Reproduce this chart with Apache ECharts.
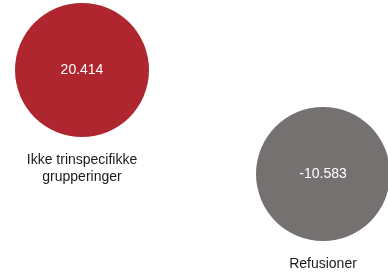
<!DOCTYPE html>
<html>
<head>
<meta charset="utf-8">
<script src="https://cdn.jsdelivr.net/npm/echarts@6/dist/echarts.min.js"></script>
<style>
    html, body { margin: 0; padding: 0; background: #fff; }
    #bubbles { width: 388px; height: 274px; }
</style>
</head>
<body>
<div id="bubbles"></div>
<script>
// bubble data
var names = ['Ikke trinspecifikke\ngrupperinger', 'Refusioner'];
var values = [20.414, -10.583];
var xPos = [0, 1];
var yPos = [1, 0];
var colors = ['#AF262E', '#767171'];

function fmt(v) {
    return v.toFixed(3);
}

var chart = echarts.init(document.getElementById('bubbles'));

var points = names.map(function (n, i) {
    return {
        name: n,
        value: [xPos[i], yPos[i], values[i]],
        itemStyle: {color: colors[i], opacity: 1}
    };
});

var option = {
    animation: false,
    grid: {
        left: 82,
        right: 65,
        top: 70,
        bottom: 100
    },
    xAxis: {type: 'value', min: 0, max: 1, show: false},
    yAxis: {type: 'value', min: 0, max: 1, show: false},
    series: [
        {
            type: 'scatter',
            clip: false,
            symbolSize: 134,
            itemStyle: {opacity: 1},
            data: points,
            label: {
                show: true,
                position: 'inside',
                color: '#fff',
                fontFamily: 'Liberation Sans, Arial, sans-serif',
                fontSize: 14,
                formatter: function (p) { return fmt(p.value[2]); }
            }
        },
        {
            // names under the bubbles
            type: 'scatter',
            clip: false,
            symbolSize: 134,
            silent: true,
            itemStyle: {opacity: 1},
            data: points.map(function (p) {
                return {name: p.name, value: p.value, itemStyle: {color: 'rgba(0,0,0,0)', opacity: 1}};
            }),
            label: {
                show: true,
                position: 'bottom',
                distance: 15,
                color: '#1a1a1a',
                fontFamily: 'Liberation Sans, Arial, sans-serif',
                fontSize: 14,
                lineHeight: 17,
                align: 'center',
                formatter: function (p) { return p.name; }
            }
        }
    ]
};

chart.setOption(option);
</script>
</body>
</html>
